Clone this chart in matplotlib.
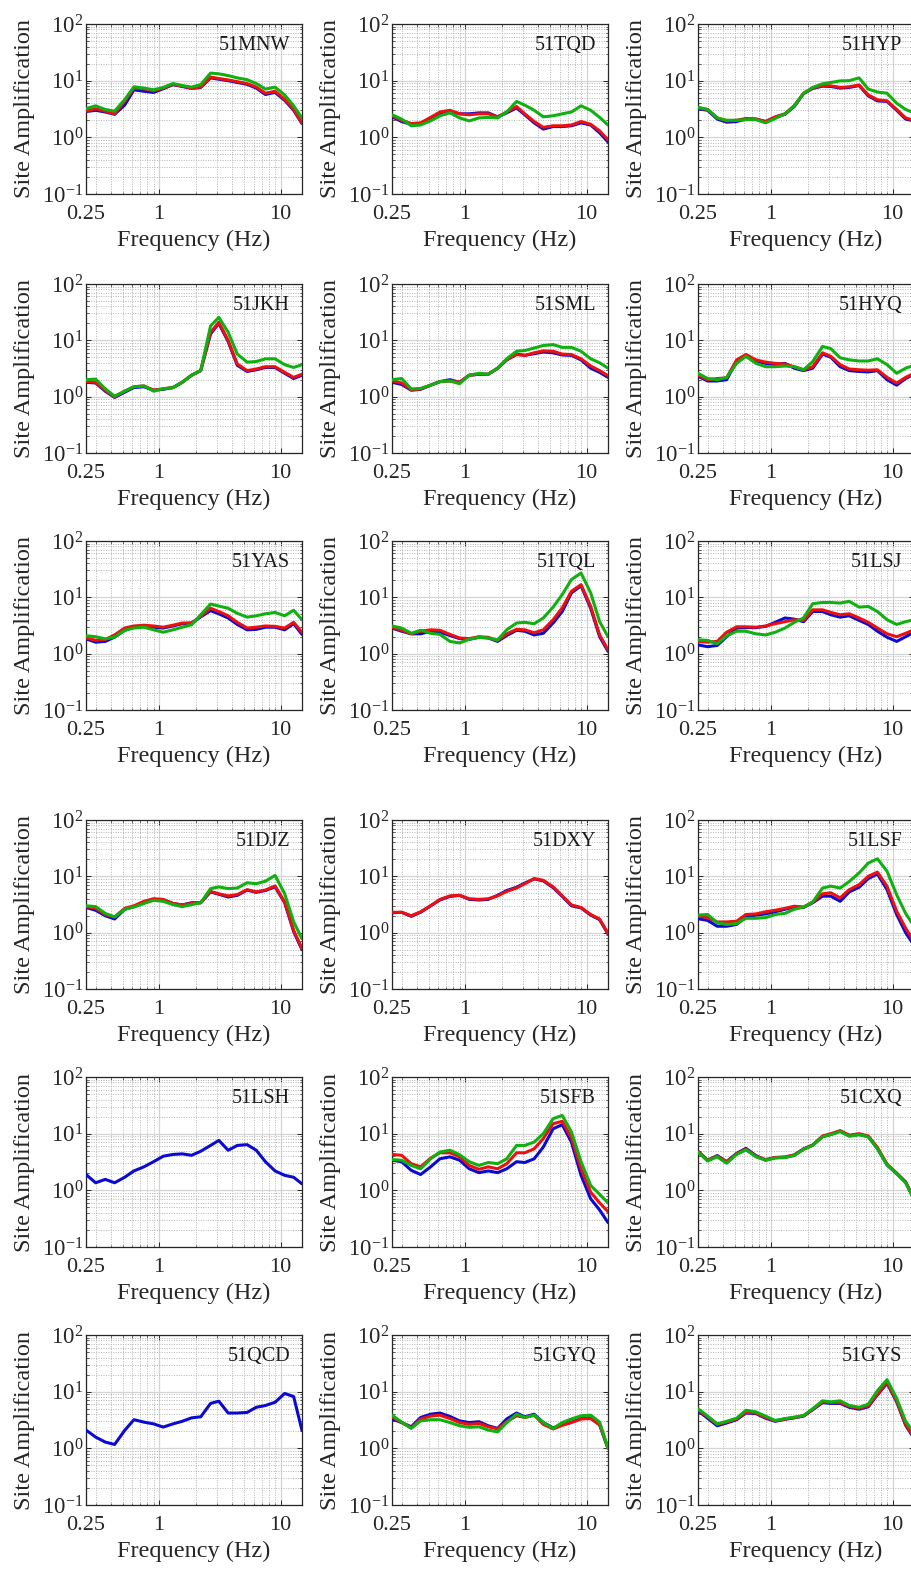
import matplotlib
matplotlib.use('Agg')
import matplotlib.pyplot as plt
from matplotlib.ticker import FixedLocator, FixedFormatter, NullFormatter

plt.rcParams['font.family'] = ['Liberation Serif', 'DejaVu Serif']
plt.rcParams['mathtext.fontset'] = 'custom'
plt.rcParams['mathtext.rm'] = 'Liberation Serif'
plt.rcParams['mathtext.it'] = 'Liberation Serif:italic'
plt.rcParams['mathtext.bf'] = 'Liberation Serif:bold'

# ---------------- data ----------------
F = [0.25, 0.3, 0.36, 0.43, 0.52, 0.62, 0.75, 0.9, 1.08, 1.3, 1.55, 1.85,
     2.2, 2.65, 3.1, 3.7, 4.4, 5.3, 6.3, 7.5, 9.0, 10.8, 12.8, 15.0]

X_TICKS = [0.25, 1, 10]
X_TICKLABELS = ['0.25', '1', '10']
Y_TICKS = [0.1, 1, 10, 100]
Y_TICKLABELS = [r'$10^{-1}$', r'$10^{0}$', r'$10^{1}$', r'$10^{2}$']

STATIONS = ['51MNW', '51TQD', '51HYP', '51JKH', '51SML', '51HYQ',
            '51YAS', '51TQL', '51LSJ', '51DJZ', '51DXY', '51LSF',
            '51LSH', '51SFB', '51CXQ', '51QCD', '51GYQ', '51GYS']

MNW_B = [2.85, 3.0, 2.8, 2.55, 3.7, 6.9, 6.5, 6.2, 7.2, 8.5, 7.9, 7.3, 7.6, 11.2, 10.6, 10.0, 9.3, 8.6, 7.4, 5.7, 6.2, 4.5, 3.0, 1.75]
MNW_R = [2.9, 3.2, 2.9, 2.6, 4.3, 7.4, 7.2, 6.6, 7.4, 8.6, 8.0, 7.4, 7.7, 11.6, 10.9, 10.3, 9.6, 8.9, 7.7, 6.0, 6.5, 4.7, 3.1, 1.8]
MNW_G = [3.2, 3.6, 3.1, 2.9, 4.6, 7.8, 7.4, 6.9, 7.6, 8.9, 8.2, 7.7, 8.5, 13.6, 13.2, 12.3, 11.2, 10.4, 8.9, 7.1, 7.7, 5.6, 3.6, 2.2]

TQD_B = [2.3, 1.9, 1.7, 1.75, 2.2, 2.6, 2.9, 2.6, 2.6, 2.7, 2.7, 2.3, 2.7, 3.3, 2.5, 1.8, 1.4, 1.55, 1.55, 1.6, 1.8, 1.65, 1.2, 0.83]
TQD_R = [2.4, 2.0, 1.75, 1.8, 2.25, 2.8, 3.0, 2.6, 2.5, 2.6, 2.6, 2.3, 2.8, 3.5, 2.6, 1.9, 1.5, 1.6, 1.6, 1.65, 1.9, 1.7, 1.3, 0.9]
TQD_G = [2.5, 2.1, 1.6, 1.65, 1.95, 2.4, 2.7, 2.2, 1.95, 2.2, 2.25, 2.2, 2.8, 4.3, 3.7, 3.0, 2.3, 2.4, 2.6, 2.8, 3.6, 3.0, 2.25, 1.65]

HYP_B = [3.2, 3.0, 2.1, 1.85, 1.9, 2.1, 2.1, 1.9, 2.25, 2.55, 3.5, 5.9, 7.3, 8.0, 7.9, 7.4, 7.6, 8.2, 5.4, 4.4, 4.3, 3.0, 2.1, 1.95]
HYP_R = [3.3, 3.1, 2.2, 1.95, 2.0, 2.15, 2.1, 1.9, 2.3, 2.6, 3.6, 6.0, 7.4, 8.2, 8.1, 7.6, 7.8, 8.4, 5.6, 4.6, 4.4, 3.1, 2.2, 2.0]
HYP_G = [3.4, 3.1, 2.2, 2.0, 2.0, 2.05, 2.05, 1.8, 2.15, 2.6, 3.6, 6.0, 7.6, 8.8, 9.3, 9.9, 10.0, 11.2, 7.1, 6.3, 6.0, 4.0, 3.1, 2.7]

JKH_B = [1.8, 1.75, 1.25, 0.97, 1.2, 1.45, 1.5, 1.3, 1.35, 1.45, 1.8, 2.4, 2.9, 13.0, 20.0, 9.5, 3.6, 2.8, 3.0, 3.3, 3.3, 2.6, 2.1, 2.4]
JKH_R = [1.85, 1.8, 1.3, 0.99, 1.25, 1.5, 1.55, 1.3, 1.38, 1.45, 1.8, 2.4, 2.9, 13.8, 21.0, 10.0, 3.8, 2.9, 3.1, 3.4, 3.4, 2.7, 2.2, 2.5]
JKH_G = [2.0, 2.05, 1.38, 1.02, 1.25, 1.5, 1.55, 1.25, 1.38, 1.45, 1.8, 2.4, 2.9, 18.0, 25.6, 13.9, 5.7, 4.1, 4.2, 4.7, 4.7, 3.7, 3.3, 3.7]

SML_B = [1.8, 1.65, 1.3, 1.35, 1.6, 1.85, 2.0, 1.8, 2.4, 2.5, 2.5, 3.2, 4.5, 5.7, 5.4, 5.8, 6.2, 6.0, 5.5, 5.4, 4.5, 3.2, 2.7, 2.2]
SML_R = [1.9, 1.75, 1.33, 1.37, 1.6, 1.85, 1.9, 1.8, 2.4, 2.5, 2.5, 3.2, 4.5, 5.6, 5.4, 6.0, 6.5, 6.4, 5.7, 5.6, 4.7, 3.5, 2.9, 2.35]
SML_G = [2.0, 2.1, 1.37, 1.4, 1.6, 1.85, 1.9, 1.7, 2.4, 2.6, 2.5, 3.2, 4.7, 6.4, 6.6, 7.3, 8.1, 8.4, 7.5, 7.5, 6.4, 4.7, 4.0, 3.2]

HYQ_B = [2.3, 1.9, 1.9, 2.0, 4.3, 5.4, 4.3, 3.9, 3.7, 3.9, 3.2, 2.9, 3.2, 5.7, 5.0, 3.4, 2.9, 2.8, 2.75, 2.9, 2.0, 1.6, 2.1, 2.5]
HYQ_R = [2.4, 2.0, 2.1, 2.15, 4.5, 5.6, 4.5, 4.1, 3.9, 3.8, 3.4, 3.0, 3.4, 6.0, 5.2, 3.7, 3.1, 3.0, 2.95, 3.0, 2.2, 1.74, 2.2, 2.6]
HYQ_G = [2.6, 2.1, 2.0, 2.2, 3.9, 5.2, 3.9, 3.4, 3.4, 3.5, 3.4, 3.0, 4.2, 7.8, 7.1, 4.9, 4.5, 4.3, 4.3, 4.7, 3.7, 2.6, 3.2, 3.6]

YAS_B = [1.83, 1.6, 1.65, 1.97, 2.6, 2.95, 3.05, 2.95, 2.85, 3.1, 3.4, 3.5, 4.5, 5.8, 5.1, 4.3, 3.3, 2.65, 2.7, 2.95, 2.95, 2.65, 3.4, 2.2]
YAS_R = [1.9, 1.73, 1.78, 2.15, 2.85, 3.1, 3.2, 3.1, 2.95, 3.2, 3.5, 3.5, 4.6, 6.4, 5.6, 4.7, 3.6, 2.85, 2.95, 3.1, 3.05, 2.85, 3.6, 2.4]
YAS_G = [2.08, 2.0, 1.83, 1.97, 2.6, 2.85, 2.95, 2.65, 2.4, 2.65, 2.95, 3.25, 4.9, 7.6, 7.0, 6.4, 5.2, 4.45, 4.7, 5.1, 5.4, 4.7, 5.9, 4.0]

TQL_B = [2.85, 2.5, 2.25, 2.25, 2.5, 2.4, 2.1, 1.85, 1.8, 1.95, 1.9, 1.65, 2.1, 2.6, 2.5, 2.15, 2.3, 3.5, 5.6, 12.0, 16.0, 6.4, 2.0, 1.1]
TQL_R = [2.95, 2.6, 2.25, 2.5, 2.65, 2.6, 2.2, 1.9, 1.85, 2.0, 1.95, 1.7, 2.25, 2.7, 2.65, 2.35, 2.65, 4.0, 6.5, 12.8, 16.8, 6.9, 2.15, 1.17]
TQL_G = [3.1, 2.85, 2.3, 2.6, 2.3, 2.2, 1.65, 1.55, 1.8, 1.95, 1.9, 1.75, 2.65, 3.5, 3.6, 3.4, 4.3, 6.7, 11.2, 20.7, 27.0, 12.0, 3.7, 2.0]

LSJ_B = [1.43, 1.33, 1.4, 2.0, 2.85, 2.9, 2.9, 3.05, 3.6, 4.3, 4.1, 3.7, 5.6, 5.6, 4.9, 4.45, 4.7, 3.9, 3.3, 2.5, 1.96, 1.65, 2.0, 2.4]
LSJ_R = [1.65, 1.6, 1.65, 2.4, 3.0, 3.0, 2.95, 3.1, 3.4, 3.7, 4.0, 3.9, 6.0, 6.0, 5.4, 4.9, 5.1, 4.3, 3.6, 2.85, 2.25, 2.0, 2.3, 2.65]
LSJ_G = [1.76, 1.72, 1.5, 2.07, 2.5, 2.5, 2.25, 2.15, 2.4, 2.85, 3.6, 4.3, 7.7, 8.1, 8.1, 7.9, 8.5, 6.7, 6.9, 5.6, 4.0, 3.3, 3.7, 4.0]

DJZ_B = [2.8, 2.5, 2.0, 1.75, 2.6, 2.9, 3.5, 3.9, 3.8, 3.3, 3.1, 3.4, 3.4, 5.3, 4.8, 4.3, 4.6, 5.7, 5.2, 5.6, 6.5, 3.4, 1.05, 0.5]
DJZ_R = [2.9, 2.7, 2.1, 1.9, 2.7, 3.0, 3.6, 4.0, 3.9, 3.3, 3.1, 3.3, 3.4, 5.4, 4.9, 4.5, 4.75, 5.8, 5.3, 5.7, 6.75, 3.5, 1.1, 0.52]
DJZ_G = [3.0, 2.9, 2.2, 1.9, 2.6, 2.85, 3.3, 3.75, 3.6, 3.15, 2.9, 3.15, 3.4, 6.05, 6.5, 6.05, 6.2, 7.7, 7.4, 8.2, 10.4, 4.9, 1.56, 0.78]

DXY_B = [2.25, 2.3, 1.95, 2.3, 3.0, 3.8, 4.4, 4.6, 3.9, 3.8, 3.9, 4.6, 5.6, 6.4, 7.6, 9.0, 8.3, 6.3, 4.4, 3.0, 2.75, 2.05, 1.7, 0.95]
DXY_R = [2.3, 2.3, 2.0, 2.35, 3.0, 3.9, 4.5, 4.6, 4.0, 3.9, 4.0, 4.5, 5.4, 6.2, 7.4, 9.1, 8.5, 6.5, 4.5, 3.1, 2.8, 2.1, 1.75, 0.97]

LSF_B = [1.77, 1.65, 1.3, 1.3, 1.4, 1.9, 2.05, 2.15, 2.35, 2.6, 2.85, 2.8, 3.4, 4.45, 4.45, 3.6, 5.3, 6.4, 9.1, 11.0, 5.8, 2.1, 1.0, 0.6]
LSF_R = [1.97, 1.85, 1.55, 1.55, 1.6, 2.1, 2.15, 2.35, 2.5, 2.7, 2.95, 2.85, 3.5, 4.9, 5.1, 4.15, 5.8, 7.1, 10.0, 11.9, 6.6, 2.4, 1.2, 0.7]
LSF_G = [2.05, 2.1, 1.5, 1.4, 1.45, 1.8, 1.8, 1.85, 2.1, 2.2, 2.6, 2.85, 3.5, 6.2, 6.7, 6.2, 8.1, 11.5, 17.2, 20.5, 12.3, 4.7, 2.2, 1.3]

LSH_B = [1.9, 1.36, 1.56, 1.36, 1.7, 2.2, 2.6, 3.2, 4.0, 4.3, 4.4, 4.15, 4.9, 6.2, 7.6, 5.1, 6.2, 6.4, 5.1, 3.2, 2.2, 1.84, 1.7, 1.3]

SFB_B = [3.4, 3.2, 2.25, 1.9, 2.6, 3.6, 3.9, 3.4, 2.4, 2.05, 2.2, 2.05, 2.4, 3.2, 3.1, 3.6, 5.8, 12.2, 14.4, 7.1, 1.84, 0.71, 0.45, 0.27]
SFB_R = [4.3, 4.15, 2.95, 2.6, 3.7, 4.6, 4.6, 3.9, 2.75, 2.35, 2.6, 2.4, 2.95, 4.6, 4.6, 5.4, 8.2, 15.0, 16.5, 8.4, 2.4, 0.93, 0.6, 0.42]
SFB_G = [3.5, 3.4, 2.75, 2.4, 3.6, 4.75, 5.1, 4.25, 3.2, 2.75, 3.1, 2.95, 3.6, 6.2, 6.2, 7.1, 10.0, 18.4, 21.0, 10.7, 3.2, 1.22, 0.85, 0.6]

CXQ_B = [4.9, 3.4, 4.1, 3.2, 4.5, 5.5, 4.1, 3.4, 3.8, 3.8, 4.2, 5.4, 6.3, 8.9, 9.7, 11.1, 9.2, 9.7, 8.9, 5.5, 2.8, 2.0, 1.4, 0.7]
CXQ_R = [4.8, 3.4, 4.0, 3.2, 4.4, 5.3, 4.0, 3.5, 3.8, 3.9, 4.2, 5.3, 6.3, 9.1, 10.0, 11.3, 9.4, 10.0, 9.1, 5.7, 2.9, 2.0, 1.4, 0.72]
CXQ_G = [4.7, 3.3, 3.9, 3.0, 4.3, 5.2, 3.9, 3.4, 3.7, 3.8, 4.1, 5.3, 6.2, 8.8, 9.6, 10.9, 9.0, 9.6, 8.8, 5.4, 2.8, 1.95, 1.35, 0.7]

QCD_B = [2.1, 1.58, 1.29, 1.17, 2.07, 3.2, 2.9, 2.7, 2.37, 2.7, 3.0, 3.45, 3.6, 6.2, 6.8, 4.2, 4.2, 4.3, 5.3, 5.7, 6.5, 9.3, 8.2, 2.07]

GYQ_B = [3.3, 2.85, 2.4, 3.5, 4.0, 4.2, 3.65, 3.05, 2.85, 2.95, 2.5, 2.25, 3.3, 4.2, 3.6, 4.0, 2.85, 2.3, 2.6, 2.9, 3.35, 3.45, 2.6, 1.0]
GYQ_R = [3.6, 2.85, 2.3, 3.3, 3.7, 3.85, 3.35, 2.85, 2.65, 2.75, 2.4, 2.2, 2.95, 3.75, 3.5, 3.85, 2.65, 2.2, 2.55, 2.85, 3.3, 3.35, 2.6, 1.0]
GYQ_G = [3.85, 2.9, 2.25, 3.05, 3.2, 3.2, 2.85, 2.5, 2.35, 2.4, 2.1, 1.95, 2.85, 4.0, 3.5, 3.85, 2.85, 2.25, 2.85, 3.3, 3.75, 3.85, 2.9, 1.0]

GYS_B = [4.6, 3.4, 2.5, 2.8, 3.2, 4.2, 4.1, 3.4, 3.0, 3.25, 3.45, 3.7, 4.8, 6.4, 6.2, 6.2, 5.3, 4.9, 5.4, 8.8, 14.0, 6.6, 2.55, 1.5]
GYS_R = [4.8, 3.6, 2.65, 2.9, 3.3, 4.3, 4.2, 3.5, 3.05, 3.3, 3.5, 3.75, 4.9, 6.6, 6.4, 6.4, 5.5, 5.1, 5.6, 9.1, 14.6, 6.9, 2.65, 1.6]
GYS_G = [5.0, 3.7, 2.7, 3.0, 3.4, 4.7, 4.4, 3.7, 3.1, 3.35, 3.55, 3.8, 5.0, 6.9, 6.6, 6.9, 5.7, 5.3, 6.0, 10.4, 16.3, 7.6, 3.0, 1.9]

SERIES = {
    '51MNW': (MNW_B, MNW_R, MNW_G), '51TQD': (TQD_B, TQD_R, TQD_G),
    '51HYP': (HYP_B, HYP_R, HYP_G), '51JKH': (JKH_B, JKH_R, JKH_G),
    '51SML': (SML_B, SML_R, SML_G), '51HYQ': (HYQ_B, HYQ_R, HYQ_G),
    '51YAS': (YAS_B, YAS_R, YAS_G), '51TQL': (TQL_B, TQL_R, TQL_G),
    '51LSJ': (LSJ_B, LSJ_R, LSJ_G), '51DJZ': (DJZ_B, DJZ_R, DJZ_G),
    '51DXY': (DXY_B, DXY_R, None), '51LSF': (LSF_B, LSF_R, LSF_G),
    '51LSH': (LSH_B, None, None), '51SFB': (SFB_B, SFB_R, SFB_G),
    '51CXQ': (CXQ_B, CXQ_R, CXQ_G), '51QCD': (QCD_B, None, None),
    '51GYQ': (GYQ_B, GYQ_R, GYQ_G), '51GYS': (GYS_B, GYS_R, GYS_G),
}

# ---------------- layout (pixels) ----------------
W_PX, H_PX = 911, 1570
COL_LEFT = [86, 392, 698]
COL_W = 216
ROWS = [(24, 194), (284, 453), (541, 710), (820, 989), (1077, 1247), (1335, 1505)]

COLORS = ['#0a0ad2', '#ee1010', '#10b010']

fig = plt.figure(figsize=(W_PX / 100, H_PX / 100), dpi=100)
fig.patch.set_facecolor('white')

for i, name in enumerate(STATIONS):
    r, c = divmod(i, 3)
    top, bot = ROWS[r]
    ax = fig.add_axes([COL_LEFT[c] / W_PX, 1 - bot / H_PX,
                       COL_W / W_PX, (bot - top) / H_PX])
    ax.set_xscale('log')
    ax.set_yscale('log')
    for s, col in zip(SERIES[name], COLORS):
        if s is not None:
            ax.plot(F, s, color=col, lw=2.2, solid_joinstyle='round',
                    solid_capstyle='round', zorder=3)
    ax.set_xlim(0.25, 15)
    ax.set_ylim(0.1, 100)
    ax.xaxis.set_major_locator(FixedLocator(X_TICKS))
    ax.xaxis.set_major_formatter(FixedFormatter(X_TICKLABELS))
    ax.xaxis.set_minor_locator(FixedLocator([0.3, 0.4, 0.5, 0.6, 0.7, 0.8, 0.9,
                                             2, 3, 4, 5, 6, 7, 8, 9]))
    ax.xaxis.set_minor_formatter(NullFormatter())
    ax.yaxis.set_major_locator(FixedLocator(Y_TICKS))
    ax.yaxis.set_major_formatter(FixedFormatter(Y_TICKLABELS))
    ax.yaxis.set_minor_locator(FixedLocator([m * d for d in (0.1, 1, 10) for m in range(2, 10)]))
    ax.yaxis.set_minor_formatter(NullFormatter())
    ax.grid(True, which='major', color='#d4d4d4', lw=0.9, ls='-', zorder=0)
    ax.grid(True, which='minor', color='#b4b4b4', lw=0.7, ls=(0, (1, 1.5)), zorder=0)
    ax.tick_params(which='both', direction='in', top=True, right=True,
                   colors='#262626', labelcolor='#262626')
    ax.tick_params(which='major', length=3.5, width=0.7)
    ax.tick_params(which='minor', length=1.8, width=0.5)
    ax.tick_params(axis='x', which='major', pad=8, labelsize=16)
    ax.tick_params(axis='y', which='major', pad=2, labelsize=16.5)
    for sp in ax.spines.values():
        sp.set_color('#262626')
        sp.set_linewidth(0.9)
    ax.set_xlabel('Frequency (Hz)', fontsize=17.5, color='#262626', va='top')
    ax.xaxis.set_label_coords(0.5, -0.21)
    ax.set_ylabel('Site Amplification', fontsize=17.5, color='#262626')
    ax.yaxis.set_label_coords(-0.235, 0.5)
    ax.text(0.945, 0.875, name, transform=ax.transAxes, ha='right', va='center',
            fontsize=14.5, color='#1a1a1a', zorder=5)

fig.savefig('out.png', dpi=100, facecolor='white')
